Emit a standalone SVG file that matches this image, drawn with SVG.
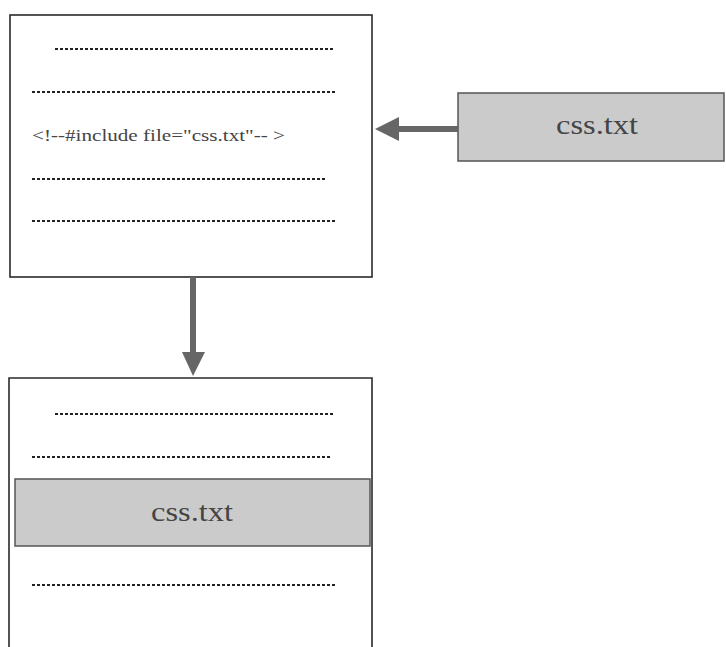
<svg xmlns="http://www.w3.org/2000/svg" width="726" height="647" viewBox="0 0 726 647">
<style>
.box{fill:#fff;stroke:#2a2a2a;stroke-width:1.6}
.gray{fill:#cbcbcb;stroke:#555;stroke-width:1.5}
.dash{stroke:#222;stroke-width:2;stroke-dasharray:3 2;fill:none}
.lbl{font-family:"Liberation Serif",serif;fill:#444}
.conn{stroke:#666;stroke-width:6;fill:none}
.head{fill:#666}
</style>
<g id="page-source">
<rect class="box" x="10" y="15" width="362" height="262"/>
<line class="dash" x1="55" y1="49" x2="335" y2="49"/>
<line class="dash" x1="32" y1="92" x2="335" y2="92"/>
<text class="lbl" x="32" y="141" font-size="17" textLength="253" lengthAdjust="spacingAndGlyphs">&lt;!--#include file="css.txt"-- &gt;</text>
<line class="dash" x1="32" y1="179" x2="327" y2="179"/>
<line class="dash" x1="32" y1="221" x2="335" y2="221"/>
</g>
<g id="css-file">
<rect class="gray" x="458" y="93" width="266" height="68"/>
<text class="lbl" x="597" y="134" font-size="28" text-anchor="middle" textLength="82" lengthAdjust="spacingAndGlyphs">css.txt</text>
</g>
<g id="page-result">
<path class="box" d="M9,650 L9,378 L372,378 L372,650"/>
<line class="dash" x1="55" y1="414" x2="335" y2="414"/>
<line class="dash" x1="32" y1="457" x2="332" y2="457"/>
<rect class="gray" x="15" y="479" width="355" height="67"/>
<text class="lbl" x="192" y="521" font-size="28" text-anchor="middle" textLength="82" lengthAdjust="spacingAndGlyphs">css.txt</text>
<line class="dash" x1="32" y1="585" x2="335" y2="585"/>
</g>
<g id="connectors">
<line class="conn" x1="458" y1="129" x2="396" y2="129"/>
<polygon class="head" points="375,129 399,117 399,141"/>
<line class="conn" x1="193" y1="277" x2="193" y2="354"/>
<polygon class="head" points="193,376 182,352 205,352"/>
</g>
</svg>
